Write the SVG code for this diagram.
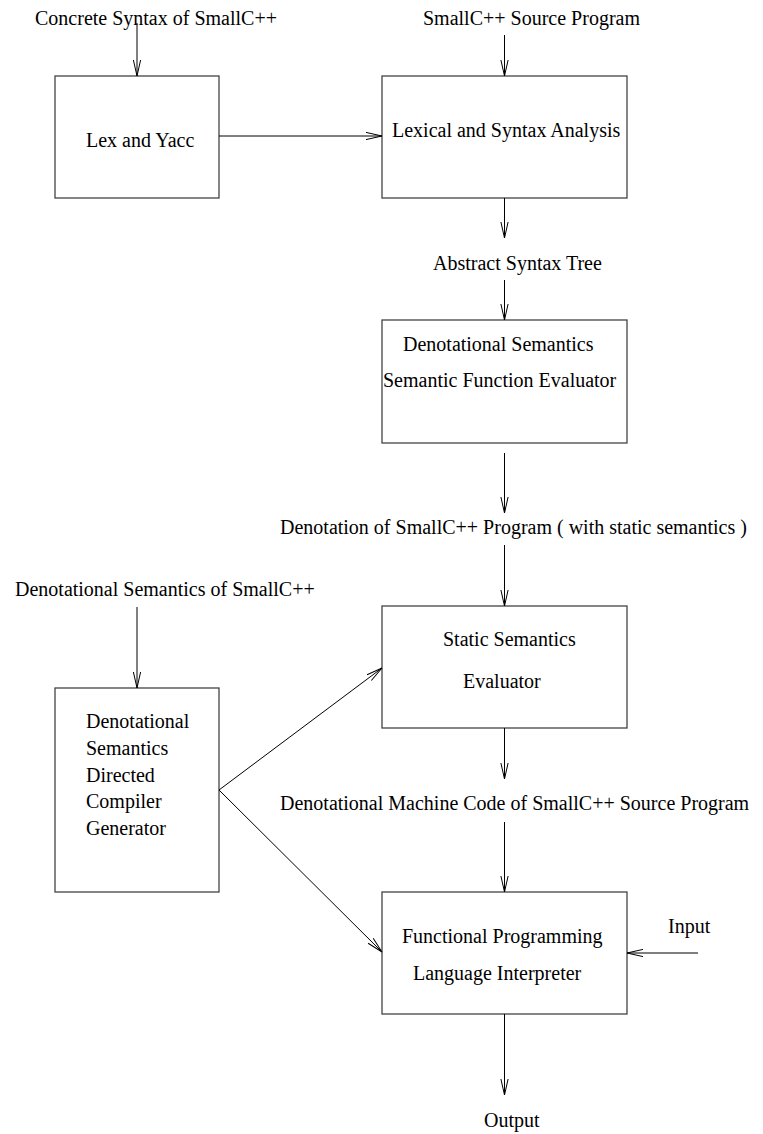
<svg xmlns="http://www.w3.org/2000/svg" width="763" height="1134" viewBox="0 0 763 1134">
<style>
text{font-family:"Liberation Serif","Times New Roman",serif;font-size:20px;fill:#000}
.box{fill:none;stroke:#444;stroke-width:1.3}
.edge{fill:none;stroke:#000;stroke-width:1;marker-end:url(#arr)}
</style>
<defs>
<marker id="arr" markerUnits="userSpaceOnUse" viewBox="-17 -5 18 10" refX="0" refY="0" markerWidth="18" markerHeight="10" orient="auto" overflow="visible">
<path d="M-16,-3.6 L0,0 L-16,3.6" fill="none" stroke="#000" stroke-width="1"/>
</marker>
</defs>
<g id="labels">
<text x="35" y="25">Concrete Syntax of SmallC++</text>
<text x="423" y="25">SmallC++ Source Program</text>
<text x="433" y="270">Abstract Syntax Tree</text>
<text x="280" y="534">Denotation of SmallC++ Program ( with static semantics )</text>
<text x="15" y="596">Denotational Semantics of SmallC++</text>
<text x="280" y="810">Denotational Machine Code of SmallC++ Source Program</text>
<text x="668" y="933">Input</text>
<text x="484" y="1127">Output</text>
</g>
<g id="lexyacc">
<rect class="box" x="55" y="76" width="164" height="122"/>
<text x="86" y="147">Lex and Yacc</text>
</g>
<g id="lexical">
<rect class="box" x="382" y="76" width="245" height="122"/>
<text x="392" y="137">Lexical and Syntax Analysis</text>
</g>
<g id="semeval">
<rect class="box" x="382" y="320" width="245" height="123"/>
<text x="403" y="351">Denotational Semantics</text>
<text x="383" y="387">Semantic Function Evaluator</text>
</g>
<g id="static">
<rect class="box" x="382" y="606" width="245" height="122"/>
<text x="443" y="646">Static Semantics</text>
<text x="463" y="688">Evaluator</text>
</g>
<g id="compgen">
<rect class="box" x="55" y="688" width="164" height="204"/>
<text x="86" y="728">Denotational</text>
<text x="86" y="755">Semantics</text>
<text x="86" y="782">Directed</text>
<text x="86" y="808">Compiler</text>
<text x="86" y="835">Generator</text>
</g>
<g id="interp">
<rect class="box" x="382" y="892" width="245" height="122"/>
<text x="402" y="943">Functional Programming</text>
<text x="413" y="980">Language Interpreter</text>
</g>
<g id="connectors">
<line class="edge" x1="137" y1="23" x2="137" y2="76"/>
<line class="edge" x1="504.5" y1="35" x2="504.5" y2="76"/>
<line class="edge" x1="219" y1="136" x2="382" y2="136"/>
<line class="edge" x1="504.5" y1="198" x2="504.5" y2="238"/>
<line class="edge" x1="504.5" y1="280" x2="504.5" y2="320"/>
<line class="edge" x1="504.5" y1="453" x2="504.5" y2="513"/>
<line class="edge" x1="504.5" y1="545" x2="504.5" y2="606"/>
<line class="edge" x1="137" y1="607" x2="137" y2="688"/>
<line class="edge" x1="219" y1="790" x2="382" y2="668"/>
<line class="edge" x1="219" y1="790" x2="382" y2="952"/>
<line class="edge" x1="504.5" y1="728" x2="504.5" y2="779"/>
<line class="edge" x1="504.5" y1="822" x2="504.5" y2="892"/>
<line class="edge" x1="698" y1="953" x2="627" y2="953"/>
<line class="edge" x1="504.5" y1="1014" x2="504.5" y2="1095"/>
</g>
</svg>
